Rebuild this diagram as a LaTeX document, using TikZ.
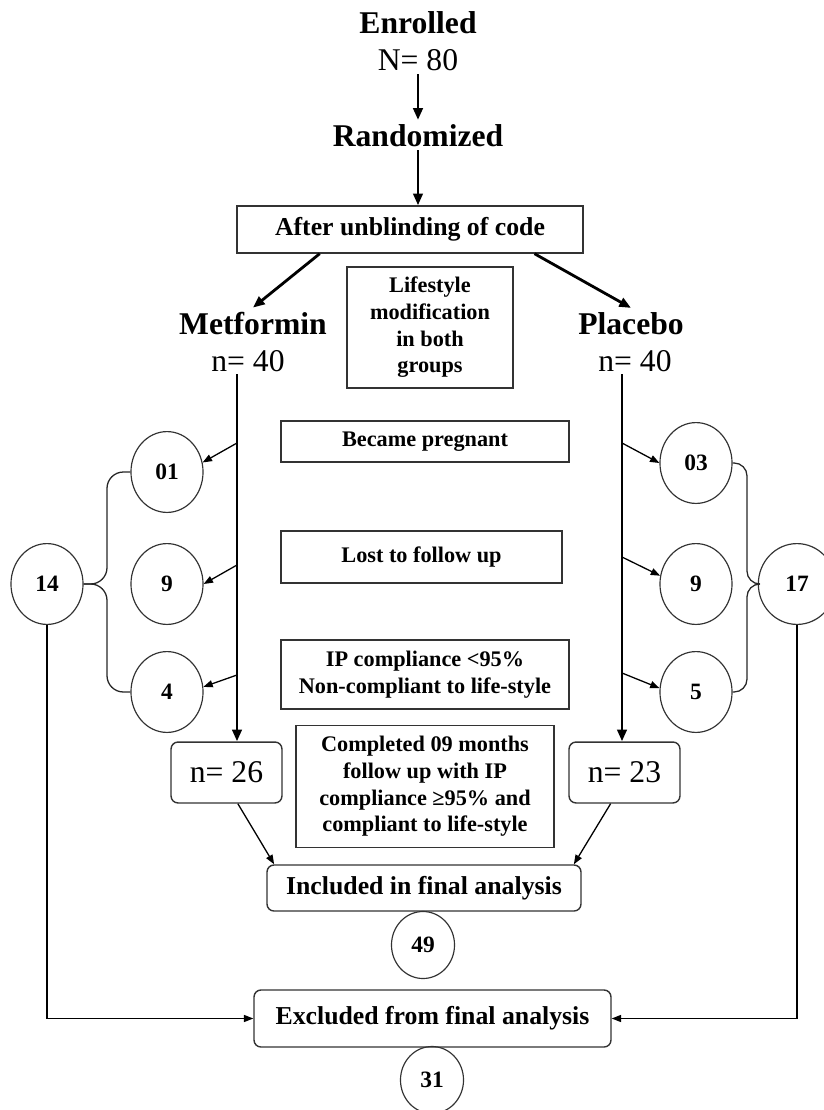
\documentclass[tikz,border=0pt]{standalone}
\usepackage{fontspec}
\setmainfont{Liberation Serif}
\usetikzlibrary{arrows.meta,shapes.geometric}

\tikzset{
    headtext/.style={font=\fontsize{27}{31}\bfseries\selectfont, anchor=base},
    numtext/.style={font=\fontsize{27}{31}\selectfont, anchor=base},
    plainbox/.style={draw=black!80, line width=1.2pt, align=center, inner sep=2pt,
        font=\fontsize{19}{22.7}\bfseries\selectfont},
    bigtext/.style={font=\fontsize{22}{26}\bfseries\selectfont},
    roundbox/.style={plainbox, rounded corners=6pt},
    tally/.style={ellipse, draw=black!80, line width=1pt, inner sep=0pt,
        minimum width=61.5pt, minimum height=69pt,
        font=\fontsize{20}{24}\bfseries\selectfont},
    thickarr/.style={line width=2.4pt, -{Triangle[length=10pt,width=8pt]}},
    thinarr/.style={line width=1.1pt, -{Triangle[length=8pt,width=6pt]}},
    bracelink/.style={line width=1.1pt, draw=black!85}
}

\begin{document}
\begin{tikzpicture}[x=0.03cm, y=-0.03cm]
    \useasboundingbox (0,0) rectangle (824,1110);

    % Enrolment and randomisation
    \node[headtext] (enrolled) at (418,33) {Enrolled};
    \node[numtext] (total) at (418,70) {N= 80};
    \node[headtext] (randomized) at (418,146) {Randomized};
    \node[plainbox, bigtext, minimum width=295.3pt, minimum height=40.1pt] (unblind) at (410,229.5) {After unblinding of code};
    \draw[thickarr] (total.south) -- (randomized.north);
    \draw[thickarr] (randomized.south) -- (randomized.south |- unblind.north);

    % The two arms
    \node[headtext] (metformin) at (253,334) {Metformin};
    \node[numtext] (metn) at (248,371) {n= 40};
    \node[headtext] (placebo) at (631,334) {Placebo};
    \node[numtext] (placn) at (635,371) {n= 40};
    \draw[thickarr] (unblind.-165) -- (metformin.north);
    \draw[thickarr] (unblind.-11.5) -- (placebo.north);
    \node[plainbox, minimum width=141.7pt, minimum height=103.3pt] (lifestyle) at (430,327.5) {Lifestyle\\modification\\in both\\groups};

    % Reasons in the middle
    \node[plainbox, minimum width=245.8pt, minimum height=35pt] (pregnant) at (425,441.5) {Became pregnant};
    \node[plainbox, minimum width=239.9pt, minimum height=44.4pt] (lost) at (421.5,557) {Lost to follow up};
    \node[plainbox, minimum width=245.8pt, minimum height=58.9pt] (noncomp) at (425,674.5) {IP compliance <95\%\\Non-compliant to life-style};
    \node[plainbox, minimum width=220.2pt, minimum height=104.1pt] (completed) at (425,786.5) {Completed 09 months\\follow up with IP\\compliance ≥95\% and\\compliant to life-style};

    % Drop-outs, metformin side
    \node[tally] (c01) at (167,472) {01};
    \node[tally] (c9l) at (167,584) {9};
    \node[tally] (c4) at (167,692) {4};
    \node[tally] (c14) at (47,584) {14};
    % Drop-outs, placebo side
    \node[tally] (c03) at (696,463) {03};
    \node[tally] (c9r) at (696,584) {9};
    \node[tally] (c5) at (696,692) {5};
    \node[tally, minimum width=66pt] (c17) at (797,584) {17};

    % Completers
    \node[roundbox, numtext, anchor=center, minimum width=94.7pt, minimum height=52pt] (n26) at (226.5,772.5) {n= 26};
    \node[roundbox, numtext, anchor=center, minimum width=94.7pt, minimum height=52pt] (n23) at (624.5,772.5) {n= 23};
    \coordinate (mtop) at (237,374);
    \coordinate (ptop) at (622,374);
    \draw[thickarr] (mtop) -- (mtop |- n26.north);
    \draw[thickarr] (ptop) -- (ptop |- n23.north);

    % Arrows off the stems
    \foreach \y/\c [count=\i] in {443/c01.15, 565/c9l.east, 675/c4.8} {
        \coordinate (ms\i) at (237,\y);
        \draw[thinarr] (ms\i) -- (\c);
    }
    \foreach \y/\c [count=\i] in {443/c03.west, 557/c9r.167, 673/c5.174} {
        \coordinate (ps\i) at (622,\y);
        \draw[thinarr] (ps\i) -- (\c);
    }

    % Braces to the totals
    \draw[bracelink, rounded corners=14pt] (c01.west) -| (107,584) -- (c14.east);
    \draw[bracelink, rounded corners=14pt] (c4.west) -| (107,584) -- (c14.east);
    \draw[bracelink, rounded corners=11pt] (c03.east) -| (747,584) -- (c17.west);
    \draw[bracelink, rounded corners=11pt] (c5.east) -| (747,584) -- (c17.west);

    % Final analysis
    \node[roundbox, bigtext, minimum width=268pt, minimum height=39.3pt] (included) at (424,888) {Included in final analysis};
    \node[tally, minimum width=53.8pt, minimum height=57.2pt] (c49) at (423,945) {49};
    \node[roundbox, bigtext, minimum width=304.7pt, minimum height=48.7pt] (excluded) at (432.5,1018.5) {Excluded from final analysis};
    \node[tally, minimum width=53.8pt, minimum height=57.2pt] (c31) at (432,1080) {31};
    \draw[thinarr] (n26.-70) -- (included.171);
    \draw[thinarr] (n23.-114) -- (included.9);
    \draw[thinarr] (c14.south) |- (excluded.west);
    \draw[thinarr] (c17.south) |- (excluded.east);
\end{tikzpicture}
\end{document}
